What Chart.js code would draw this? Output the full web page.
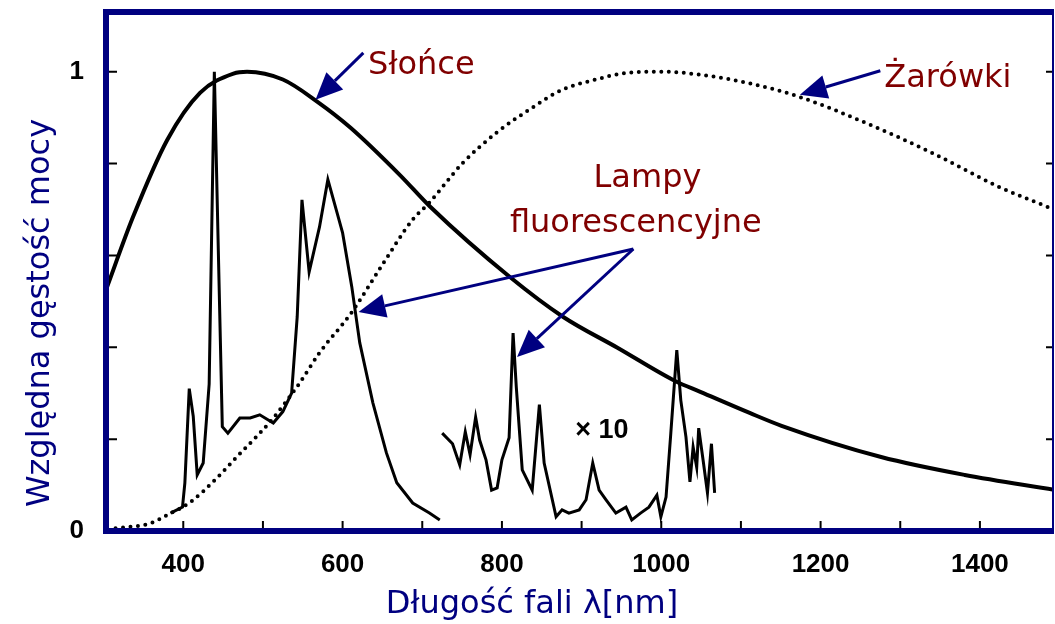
<!DOCTYPE html>
<html>
<head>
<meta charset="utf-8">
<script src="https://cdn.jsdelivr.net/npm/chart.js@4.4.1/dist/chart.umd.min.js"></script>
<style>
  html, body { margin: 0; padding: 0; background: #fff; }
  #wrap { width: 1055px; height: 624px; }
</style>
</head>
<body>
<div id="wrap"><canvas id="spectrumChart"></canvas></div>
<script>
// Widmo: Słońce, żarówki, lampy fluorescencyjne
const sunWl  = [303, 337, 380, 421, 463, 480, 525, 568, 610, 672, 710, 810, 877, 945, 1018, 1049, 1111, 1151, 1276, 1381, 1493];
const sunVal = [0.525, 0.684, 0.852, 0.954, 0.996, 1.0, 0.983, 0.935, 0.878, 0.775, 0.706, 0.553, 0.466, 0.399, 0.326, 0.303, 0.257, 0.229, 0.161, 0.122, 0.09];

const bulbWl  = [315, 359, 380, 409, 442, 467, 496, 513, 546, 571, 611, 646, 688, 709, 738, 750, 793, 834, 876, 918, 959, 1000, 1051, 1110, 1172, 1256, 1339, 1423, 1493];
const bulbVal = [0.006, 0.017, 0.035, 0.063, 0.115, 0.161, 0.213, 0.246, 0.322, 0.388, 0.475, 0.569, 0.678, 0.715, 0.776, 0.80, 0.867, 0.917, 0.961, 0.983, 0.998, 1.0, 0.993, 0.975, 0.946, 0.889, 0.824, 0.75, 0.70];

const fluoWl  = [384, 399, 402, 407.5, 412.5, 417.5, 425, 432.5, 439, 444, 449, 456, 471, 484, 496, 513, 525, 536, 543, 549, 558, 571, 581.5, 593, 600, 611.5, 621.5, 638, 655, 668, 688, 709, 722];
const fluoVal = [0.039, 0.052, 0.105, 0.31, 0.25, 0.122, 0.148, 0.32, 1.0, 0.61, 0.227, 0.213, 0.246, 0.246, 0.253, 0.235, 0.26, 0.30, 0.466, 0.721, 0.564, 0.662, 0.765, 0.693, 0.649, 0.532, 0.41, 0.279, 0.17, 0.105, 0.061, 0.039, 0.024];

// część podczerwona, powiększona x10
const irWl  = [725, 738, 747, 754, 760, 767, 772, 780, 787, 794, 800, 809, 814, 818, 825.5, 838, 847, 853, 868, 875.5, 884, 897, 905.6, 914, 922, 930.7, 943, 955.7, 963, 974, 984.5, 994.5, 999.5, 1006, 1012, 1019.5, 1024.5, 1031, 1036, 1040, 1044.5, 1047, 1053, 1058, 1063, 1067];
const irVal = [0.213, 0.19, 0.144, 0.216, 0.166, 0.248, 0.198, 0.155, 0.089, 0.094, 0.155, 0.203, 0.431, 0.314, 0.133, 0.089, 0.275, 0.148, 0.031, 0.046, 0.039, 0.046, 0.068, 0.148, 0.089, 0.068, 0.039, 0.052, 0.024, 0.039, 0.052, 0.078, 0.031, 0.074, 0.213, 0.394, 0.285, 0.205, 0.107, 0.183, 0.139, 0.224, 0.148, 0.083, 0.19, 0.083];

const xTicks  = [400, 500, 600, 700, 800, 900, 1000, 1100, 1200, 1300, 1400];
const xLabels = [400, 600, 800, 1000, 1200, 1400];
const yTicks  = [0, 0.2, 0.4, 0.6, 0.8, 1.0];
const yLabels = [0, 1];

const pts = (xs, ys) => xs.map((x, i) => ({ x: x, y: ys[i] }));

const NAVY = '#000080';
const DARK_RED = '#800000';

// ramka, ticki do wewnatrz, opisy osi i strzalki
const decorations = {
    id: 'decorations',
    afterDatasetsDraw(chart) {
        const { ctx, chartArea: a, scales: { x, y } } = chart;
        ctx.save();

        // ticki wewnatrz wykresu
        ctx.strokeStyle = '#000';
        ctx.lineWidth = 2;
        yTicks.forEach(v => {
            if (v === 0) return;
            const py = y.getPixelForValue(v);
            ctx.beginPath();
            ctx.moveTo(a.left + 3, py); ctx.lineTo(a.left + 11, py);
            ctx.moveTo(a.right - 8, py); ctx.lineTo(a.right, py);
            ctx.stroke();
        });
        xTicks.forEach(v => {
            const px = x.getPixelForValue(v);
            ctx.beginPath();
            ctx.moveTo(px, a.bottom - 3); ctx.lineTo(px, a.bottom - 10);
            ctx.stroke();
        });

        // ramka
        ctx.strokeStyle = NAVY;
        ctx.lineWidth = 6;
        ctx.beginPath();
        ctx.moveTo(a.right, a.top);
        ctx.lineTo(a.left, a.top);
        ctx.lineTo(a.left, a.bottom);
        ctx.lineTo(a.right, a.bottom);
        ctx.stroke();
        ctx.lineWidth = 2;
        ctx.beginPath();
        ctx.moveTo(a.right - 1, a.top);
        ctx.lineTo(a.right - 1, a.bottom);
        ctx.stroke();

        // opisy osi
        ctx.fillStyle = NAVY;
        ctx.font = '32px "DejaVu Sans"';
        ctx.textAlign = 'center';
        ctx.textBaseline = 'alphabetic';
        ctx.fillText('Długość fali λ[nm]', 532, 613);
        ctx.save();
        ctx.translate(49, 313);
        ctx.rotate(-Math.PI / 2);
        ctx.fillText('Względna gęstość mocy', 0, 0);
        ctx.restore();

        // etykiety
        ctx.fillStyle = DARK_RED;
        ctx.textAlign = 'left';
        const label = (t, wl, v) => ctx.fillText(t, x.getPixelForValue(wl), y.getPixelForValue(v));
        label('Słońce', 632, 0.996);
        label('Żarówki', 1280, 0.967);
        label('Lampy', 915, 0.749);
        label('fluorescencyjne', 810, 0.651);

        ctx.fillStyle = '#000';
        ctx.font = 'bold 27px "Liberation Sans"';
        label('× 10', 892, 0.203);

        // strzalki
        const arrow = (wl1, v1, wl2, v2) => {
            const x1 = x.getPixelForValue(wl1), y1 = y.getPixelForValue(v1);
            const x2 = x.getPixelForValue(wl2), y2 = y.getPixelForValue(v2);
            const ang = Math.atan2(y2 - y1, x2 - x1);
            const len = 27, half = 12;
            const bx = x2 - len * Math.cos(ang), by = y2 - len * Math.sin(ang);
            ctx.strokeStyle = NAVY;
            ctx.fillStyle = NAVY;
            ctx.lineWidth = 3;
            ctx.beginPath();
            ctx.moveTo(x1, y1); ctx.lineTo(bx, by);
            ctx.stroke();
            ctx.beginPath();
            ctx.moveTo(x2, y2);
            ctx.lineTo(bx + half * Math.sin(ang), by - half * Math.cos(ang));
            ctx.lineTo(bx - half * Math.sin(ang), by + half * Math.cos(ang));
            ctx.closePath();
            ctx.fill();
        };
        arrow(626, 1.041, 566, 0.939);
        arrow(1275, 1.002, 1174, 0.95);
        arrow(965, 0.614, 620, 0.477);
        arrow(965, 0.614, 819, 0.379);

        ctx.restore();
    }
};

const chart = new Chart(document.getElementById('spectrumChart'), {
    type: 'line',
    data: {
        datasets: [
            {
                label: 'Słońce',
                data: pts(sunWl, sunVal),
                borderColor: '#000',
                borderWidth: 4,
                cubicInterpolationMode: 'monotone',
                pointRadius: 0
            },
            {
                label: 'Żarówki',
                data: pts(bulbWl, bulbVal),
                borderColor: '#000',
                borderWidth: 4,
                borderDash: [0, 7.5],
                borderCapStyle: 'round',
                cubicInterpolationMode: 'monotone',
                pointRadius: 0
            },
            {
                label: 'Lampy fluorescencyjne',
                data: pts(fluoWl, fluoVal),
                borderColor: '#000',
                borderWidth: 3,
                tension: 0,
                pointRadius: 0
            },
            {
                label: 'Lampy fluorescencyjne x10',
                data: pts(irWl, irVal),
                borderColor: '#000',
                borderWidth: 3,
                tension: 0,
                pointRadius: 0
            }
        ]
    },
    options: {
        responsive: true,
        maintainAspectRatio: false,
        animation: false,
        layout: { padding: { top: 12, right: 1, left: 0, bottom: 0 } },
        plugins: {
            legend: { display: false },
            tooltip: { enabled: false }
        },
        scales: {
            x: {
                type: 'linear',
                min: 303,
                max: 1493,
                afterFit: s => { s.height = 93; s.paddingLeft = 0; s.paddingRight = 0; },
                afterBuildTicks: s => { s.ticks = xTicks.map(v => ({ value: v })); },
                grid: { display: false, drawTicks: false },
                border: { display: false },
                ticks: {
                    autoSkip: false,
                    maxRotation: 0,
                    padding: 18,
                    color: '#000',
                    font: { family: 'Liberation Sans', weight: 'bold', size: 26 },
                    callback: v => xLabels.includes(v) ? String(v) : ''
                }
            },
            y: {
                min: 0,
                max: 1.13,
                afterFit: s => { s.width = 106; s.paddingTop = 0; s.paddingBottom = 0; },
                afterBuildTicks: s => { s.ticks = yTicks.map(v => ({ value: v })); },
                grid: { display: false, drawTicks: false },
                border: { display: false },
                ticks: {
                    padding: 22,
                    color: '#000',
                    font: { family: 'Liberation Sans', weight: 'bold', size: 26 },
                    callback: v => yLabels.includes(v) ? String(v) : ''
                }
            }
        }
    },
    plugins: [decorations]
});
</script>
</body>
</html>
